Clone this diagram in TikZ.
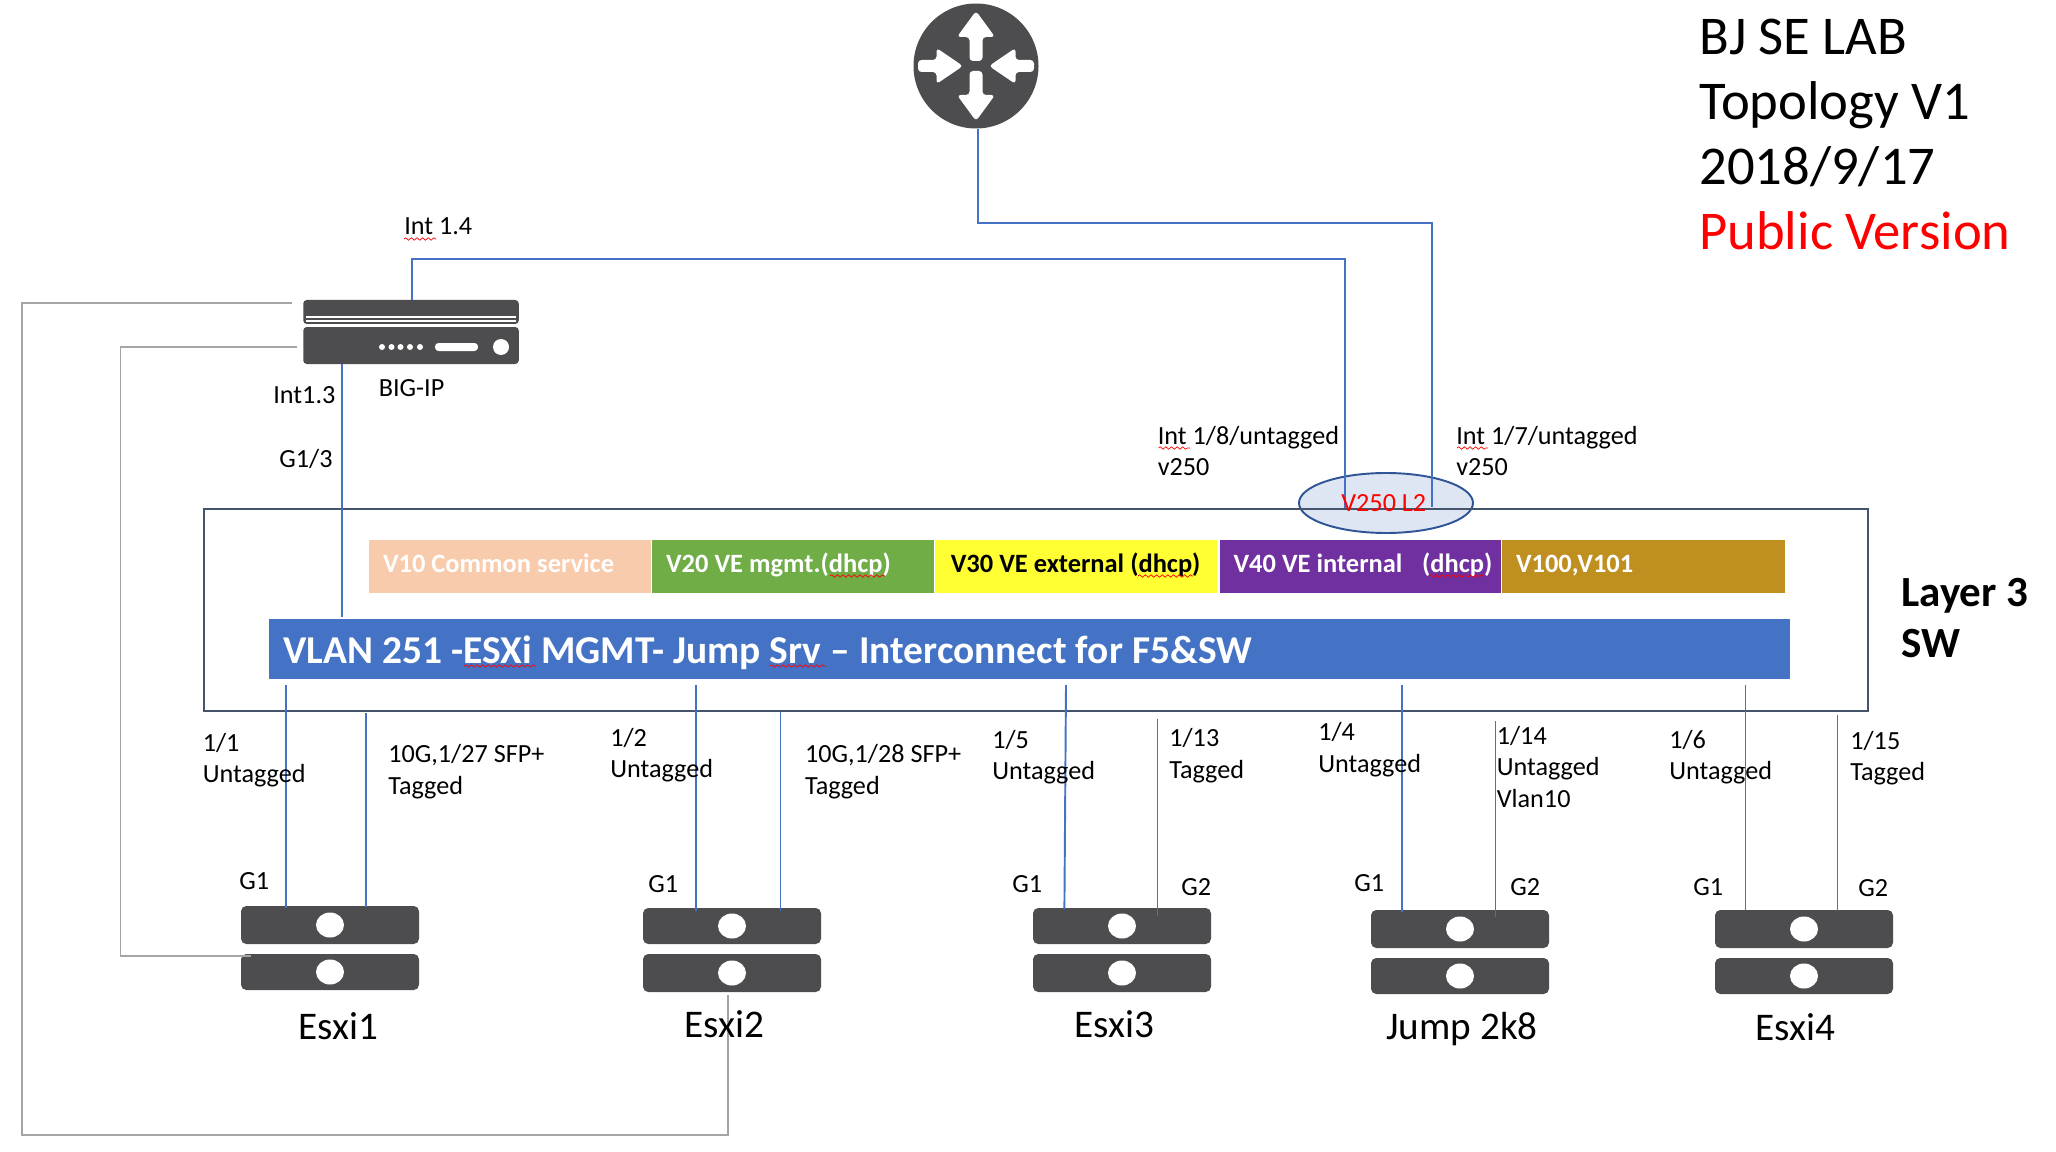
\documentclass[tikz,border=0pt]{standalone}
\usepackage{fontspec}
\setmainfont{Carlito}
\usepackage{tikz}
\usetikzlibrary{calc,positioning,shapes.geometric,decorations.pathmorphing}
\usepackage{xcolor}
\definecolor{devgray}{HTML}{4D4D4F}
\definecolor{linkblue}{HTML}{4472C4}
\definecolor{linkgray}{HTML}{A5A5A5}
\definecolor{swframe}{HTML}{44546A}
\definecolor{vpeach}{HTML}{F8CBAD}
\definecolor{vgreen}{HTML}{70AD47}
\definecolor{vyellow}{HTML}{FFFF33}
\definecolor{vpurple}{HTML}{7030A0}
\definecolor{vgold}{HTML}{BF8F20}
\definecolor{ovalfill}{HTML}{DEE6F3}
\definecolor{ovalline}{HTML}{2F5597}
\def\px{0.02cm}
\newcommand{\tightline}[2]{\raisebox{#1}[0pt][0pt]{\rlap{\spaceskip=.23em\relax #2}}}
\tikzset{
  bluelink/.style={draw=linkblue, line width=1.1pt},
  graylink/.style={draw=linkgray, line width=1.1pt},
  lbl/.style={anchor=west, inner sep=0pt, align=left, font=\fontsize{14.9}{18}\selectfont},
  hostname/.style={inner sep=0pt, font=\fontsize{22.3}{26}\selectfont},
  devbox/.style={fill=devgray, rounded corners=3pt, inner sep=0pt},
  vlanbox/.style={inner xsep=14*\px, inner ysep=0pt, minimum height=53*\px, align=left, font=\bfseries\fontsize{15.05}{18}\selectfont},
  squig/.style={draw=red, line width=0.4pt, decorate, decoration={snake, amplitude=0.7pt, segment length=3.2pt}}
}
\begin{document}
\begin{tikzpicture}[x=0.02cm,y=-0.02cm]
    \useasboundingbox (0,0) rectangle (2056,1152);

    % Router
    \node[circle, fill=devgray, minimum size=125*\px, inner sep=0pt] (router) at (976,66) {};
    \foreach \ang in {0,180} {
        \begin{scope}[shift={(976,66)},rotate=\ang]
            \fill[white, rounded corners=2pt] (-6.5,-5) -- (-6.5,-29) -- (-19,-29) -- (0,-55) -- (19,-29) -- (6.5,-29) -- (6.5,-5) -- cycle;
            \fill[white, rounded corners=2pt] (-58,-6) -- (-39.5,-6) -- (-39.5,-18) -- (-13,0) -- (-39.5,18) -- (-39.5,6) -- (-58,6) -- cycle;
        \end{scope}
    }

    % BIG-IP
    \node[devbox, rounded corners=2pt, minimum width=215.5*\px, minimum height=24*\px] (bigA) at (411,312) {};
    \node[devbox, rounded corners=2pt, minimum width=215.5*\px, minimum height=37*\px] (bigB) at (411,345.5) {};
    \foreach \y in {317,321} {
        \draw[white, line width=0.8pt] (306,\y) -- (516,\y);
    }
    \foreach \x in {382,391.5,400.5,410,420} {
        \fill[white] (\x,347) circle (3);
    }
    \fill[white, rounded corners=2pt] (435,343) rectangle (478,351);
    \fill[white] (501,347) circle (8);

    % Layer 3 switch, the oval sits under the frame line
    \node[ellipse, fill=ovalfill, draw=ovalline, line width=1.1pt, minimum width=174*\px, minimum height=60*\px, inner sep=0pt] (oval) at (1386,503) {};
    \node[draw=swframe, line width=1.4pt, minimum width=1664*\px, minimum height=202*\px, inner sep=0pt] (sw) at (1036,610) {};

    % VLAN colour bars
    \foreach \n/\xa/\xb/\col/\tcol/\txt in {
        vten/369/651/vpeach/white/{V10 Common service},
        vtwenty/652/934/vgreen/white/{V20 VE mgmt.(dhcp)},
        vthirty/935/1217/vyellow/black/{\hspace{1pt}V30 VE external (dhcp)},
        vforty/1219.5/1501/vpurple/white/{V40 VE internal\hspace{0.75em}(dhcp)},
        vhundred/1502/1785/vgold/white/{V100,V101}} {
        \node[vlanbox, fill=\col, text=\tcol, text width={(\xb-\xa-28)*\px}] (\n) at ({(\xa+\xb)/2},566.5) {\tightline{-3.2pt}{\txt}};
    }
    \node[anchor=west, fill=linkblue, text=white, minimum width=1521*\px, minimum height=60*\px, inner xsep=14*\px, inner ysep=0pt, text width=1493*\px, font=\bfseries\fontsize{22.45}{24}\selectfont] (vmgmt) at (269,649) {\tightline{-8.4pt}{VLAN 251 -ESXi MGMT- Jump Srv -- Interconnect for F5\&SW}};

    % ESXi hosts
    \foreach \n/\cx/\ta/\ba/\tb/\bb in {esxia/330/906/944/954/990, esxib/732/908/944/954/992, esxic/1122/908/944/954/992, jump/1460/910/948/958/994, esxid/1804/910/948/958/994} {
        \node[devbox, minimum width=178*\px, minimum height={(\ba-\ta)*\px}] (\n-top) at (\cx,{(\ta+\ba)/2}) {};
        \node[devbox, minimum width=178*\px, minimum height={(\bb-\tb)*\px}] (\n-bot) at (\cx,{(\tb+\bb)/2}) {};
        \fill[white] (\cx,{(\ta+\ba)/2}) ellipse [x radius=14, y radius=12.5];
        \fill[white] (\cx,{(\tb+\bb)/2}) ellipse [x radius=14, y radius=12.5];
    }

    % Uplinks
    \coordinate (rbend) at (1432,223);
    \coordinate (v250r) at (1432,507);
    \coordinate (ibend) at (1345,259);
    \coordinate (v250l) at (1345,508);
    \coordinate (mgmttop) at (342,617);
    \draw[bluelink] ([xshift=1.1pt]router.south) |- (rbend) -- (v250r);
    \draw[bluelink] ([xshift=0.5pt]bigA.north) |- (ibend) -- (v250l);
    \draw[bluelink] (bigB.south -| mgmttop) -- (mgmttop);

    % Switch ports down to the hosts
    \foreach \n/\xa/\ya/\xb/\yb in {pa/286/685/286/908, pb/366/713/366/907, pc/696/685/696/911, pd/780.5/712/780.5/911, pe/1066/685/1064.4/909, pf/1157.5/719/1157.5/916, pg/1402/685/1402/912, ph/1495.5/721/1495.5/917, pi/1745.5/685/1745.5/910, pj/1837.5/715/1837.5/911} {
        \coordinate (\n-sw) at (\xa,\ya);
        \coordinate (\n-host) at (\xb,\yb);
        \draw[bluelink] (\n-sw) -- (\n-host);
    }

    % Gray management loops
    \coordinate (grayA) at (292,303);
    \coordinate (grayAb) at (22,1135);
    \coordinate (grayAe) at (728,995);
    \coordinate (grayB) at (297,347);
    \coordinate (grayBb) at (120.5,956);
    \coordinate (grayBe) at (251,956);
    \draw[graylink] (grayA) -| (grayAb) -| (grayAe);
    \draw[graylink] (grayB) -| (grayBb) -- (grayBe);

    % Texts
    \node[lbl] (tint14) at (404,226) {Int 1.4};
    \node[lbl] (tint13) at (273,395) {Int1.3};
    \node[lbl] (tbig) at (378.5,388) {BIG-IP};
    \node[lbl] (tg13) at (279,459) {G1/3};
    \node[lbl] (tint18) at (1157.5,451) {Int 1/8/untagged\\v250};
    \node[lbl] (tint17) at (1456,451) {Int 1/7/untagged\\v250};
    \node[lbl, text=red] (tv250) at (1341,503) {V250 L2};
    \node[anchor=west, inner sep=0pt, align=left, font=\bfseries\fontsize{24.5}{29}\selectfont] (tlayer) at (1901,618) {Layer 3\\SW};
    \node[anchor=west, inner sep=0pt, align=left, font=\fontsize{31.1}{36.9}\selectfont] (ttitle) at (1699,134.5) {BJ SE LAB\\Topology V1\\2018/9/17\\\textcolor{red}{Public Version}};

    \node[lbl] (tp11) at (202.5,760) {1/1\\Untagged};
    \node[lbl] (tp127) at (388,771.5) {10G,1/27 SFP+\\Tagged};
    \node[lbl] (tp12) at (610,755) {1/2\\Untagged};
    \node[lbl] (tp128) at (804.7,771.5) {10G,1/28 SFP+\\Tagged};
    \node[lbl] (tp15) at (992,757) {1/5\\Untagged};
    \node[lbl] (tp113) at (1169,755.5) {1/13\\Tagged};
    \node[lbl] (tp14) at (1318,749.5) {1/4\\Untagged};
    \node[lbl] (tp114) at (1496.5,767) {1/14\\Untagged\\Vlan10};
    \node[lbl] (tp16) at (1669,757) {1/6\\Untagged};
    \node[lbl] (tp115) at (1850,758) {1/15\\Tagged};

    \node[lbl] (tga) at (239,881) {G1};
    \node[lbl] (tgb) at (648,884) {G1};
    \node[lbl] (tgc) at (1012,884) {G1};
    \node[lbl] (tgd) at (1181,887) {G2};
    \node[lbl] (tge) at (1354,883) {G1};
    \node[lbl] (tgf) at (1510,887) {G2};
    \node[lbl] (tgg) at (1693,887) {G1};
    \node[lbl] (tgh) at (1858,888) {G2};

    \node[hostname] (nesxia) at (338.5,1026) {Esxi1};
    \node[hostname] (nesxib) at (724,1024) {Esxi2};
    \node[hostname] (nesxic) at (1114,1024) {Esxi3};
    \node[hostname] (njump) at (1462,1029) {Jump 2k8};
    \node[hostname] (nesxid) at (1795,1027) {Esxi4};

    % Spell-check marks under some words
    \foreach \xa/\xb/\y in {404/436/239, 1158.5/1190/448, 1457/1488/448, 1429/1484/576, 1138/1193/576, 830/885/576, 464/536/666, 770/826/666} {
        \draw[squig] (\xa,\y) -- (\xb,\y);
    }
\end{tikzpicture}
\end{document}
